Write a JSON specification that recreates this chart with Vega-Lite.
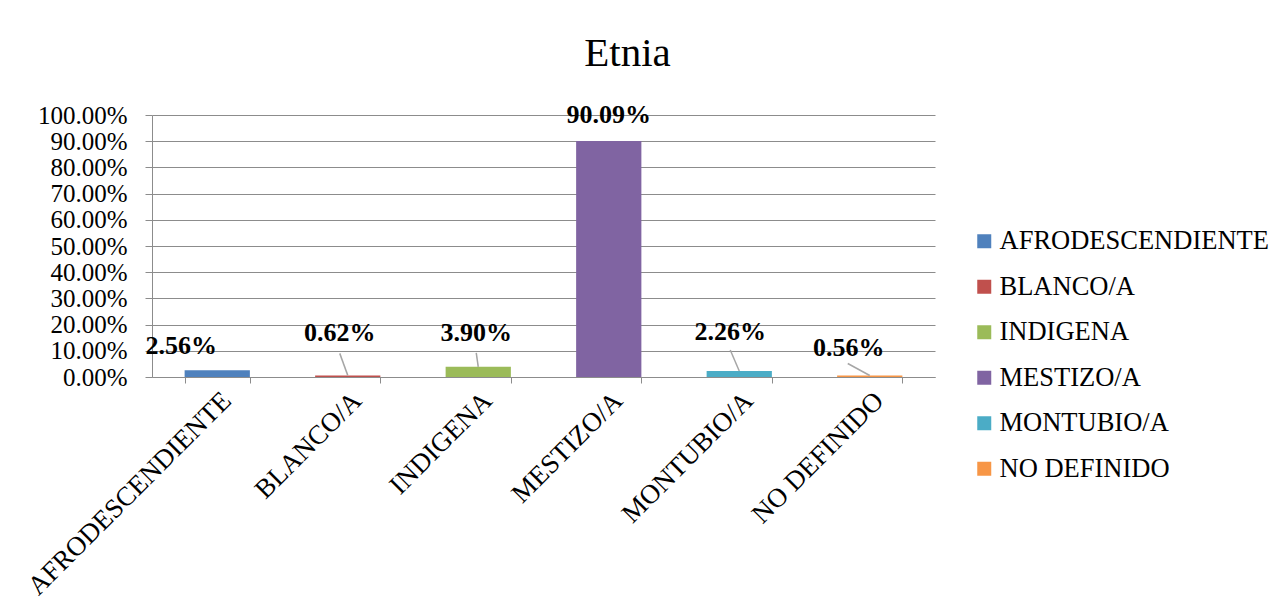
{
  "$schema": "https://vega.github.io/schema/vega-lite/v6.json",
  "width": 783,
  "height": 262,
  "autosize": {"type": "none"},
  "padding": {"left": 152, "top": 115, "right": 347, "bottom": 238},
  "background": "white",
  "config": {"view": {"stroke": null}, "font": "Liberation Serif"},
  "title": {"text": "Etnia", "fontSize": 41, "font": "Liberation Serif", "fontWeight": "normal", "color": "black", "anchor": "middle", "dx": 84, "offset": 27},
  "data": {"values": [
    {"etnia": "AFRODESCENDIENTE", "pct": 0.0256},
    {"etnia": "BLANCO/A", "pct": 0.0062},
    {"etnia": "INDIGENA", "pct": 0.039},
    {"etnia": "MESTIZO/A", "pct": 0.9009},
    {"etnia": "MONTUBIO/A", "pct": 0.0226},
    {"etnia": "NO DEFINIDO", "pct": 0.0056}
  ]},
  "encoding": {
    "x": {"field": "etnia", "type": "nominal", "sort": null,
      "scale": {"paddingInner": 0.5, "paddingOuter": 0.25},
      "axis": {"title": null, "labelAngle": -45, "labelFontSize": 27, "labelLimit": 0, "labelColor": "black", "labelFont": "Liberation Serif", "tickBand": "extent", "tickSize": 6, "tickColor": "#8c8c8c", "domainColor": "#8c8c8c", "labelPadding": 4, "grid": false}},
    "y": {"field": "pct", "type": "quantitative", "scale": {"domain": [0, 1], "nice": false},
      "axis": {"title": null, "format": ".2%", "values": [0, 0.1, 0.2, 0.3, 0.4, 0.5, 0.6, 0.7, 0.8, 0.9, 1], "labelFontSize": 25, "labelColor": "black", "labelFont": "Liberation Serif", "tickSize": 7, "labelPadding": 18, "gridColor": "#8c8c8c", "domainColor": "#8c8c8c", "tickColor": "#8c8c8c"}}
  },
  "layer": [
    {"mark": {"type": "bar"},
     "encoding": {"color": {"field": "etnia", "type": "nominal", "sort": null,
       "scale": {"domain": ["AFRODESCENDIENTE", "BLANCO/A", "INDIGENA", "MESTIZO/A", "MONTUBIO/A", "NO DEFINIDO"], "range": ["#4F81BD", "#C0504D", "#9BBB59", "#8064A2", "#4BACC6", "#F79646"]},
       "legend": {"title": null, "orient": "none", "legendX": 819, "legendY": 113, "symbolType": "square", "symbolSize": 196, "symbolStrokeWidth": 0, "labelFontSize": 26.5, "labelLimit": 0, "labelColor": "black", "labelFont": "Liberation Serif", "rowPadding": 18.5, "labelOffset": 2}}}},
    {"transform": [{"filter": "datum.etnia === 'BLANCO/A'"}],
     "mark": {"type": "rule", "color": "#a6a6a6", "strokeWidth": 1.5, "x2Offset": -8, "y2Offset": -22},
     "encoding": {"x": {"field": "etnia", "type": "nominal", "bandPosition": 0.5}, "x2": {"field": "etnia", "bandPosition": 0.5}, "y2": {"field": "pct"}}},
    {"transform": [{"filter": "datum.etnia === 'INDIGENA'"}],
     "mark": {"type": "rule", "color": "#a6a6a6", "strokeWidth": 1.5, "x2Offset": -2, "y2Offset": -14},
     "encoding": {"x": {"field": "etnia", "type": "nominal", "bandPosition": 0.5}, "x2": {"field": "etnia", "bandPosition": 0.5}, "y2": {"field": "pct"}}},
    {"transform": [{"filter": "datum.etnia === 'MONTUBIO/A'"}],
     "mark": {"type": "rule", "color": "#a6a6a6", "strokeWidth": 1.5, "x2Offset": -9, "y2Offset": -21},
     "encoding": {"x": {"field": "etnia", "type": "nominal", "bandPosition": 0.5}, "x2": {"field": "etnia", "bandPosition": 0.5}, "y2": {"field": "pct"}}},
    {"transform": [{"filter": "datum.etnia === 'NO DEFINIDO'"}],
     "mark": {"type": "rule", "color": "#a6a6a6", "strokeWidth": 1.5, "x2Offset": -22, "y2Offset": -12},
     "encoding": {"x": {"field": "etnia", "type": "nominal", "bandPosition": 0.5}, "x2": {"field": "etnia", "bandPosition": 0.5}, "y2": {"field": "pct"}}},
    {"transform": [{"filter": "datum.etnia === 'AFRODESCENDIENTE'"}],
     "mark": {"type": "text", "font": "Liberation Serif", "fontWeight": "bold", "fontSize": 26, "color": "black", "baseline": "middle", "align": "center", "dx": -36, "dy": -24},
     "encoding": {"text": {"field": "pct", "type": "quantitative", "format": ".2%"}}},
    {"transform": [{"filter": "datum.etnia === 'BLANCO/A'"}],
     "mark": {"type": "text", "font": "Liberation Serif", "fontWeight": "bold", "fontSize": 26, "color": "black", "baseline": "middle", "align": "center", "dx": -8, "dy": -42},
     "encoding": {"text": {"field": "pct", "type": "quantitative", "format": ".2%"}}},
    {"transform": [{"filter": "datum.etnia === 'INDIGENA'"}],
     "mark": {"type": "text", "font": "Liberation Serif", "fontWeight": "bold", "fontSize": 26, "color": "black", "baseline": "middle", "align": "center", "dx": -2, "dy": -34},
     "encoding": {"text": {"field": "pct", "type": "quantitative", "format": ".2%"}}},
    {"transform": [{"filter": "datum.etnia === 'MESTIZO/A'"}],
     "mark": {"type": "text", "font": "Liberation Serif", "fontWeight": "bold", "fontSize": 26, "color": "black", "baseline": "middle", "align": "center", "dx": 0, "dy": -26},
     "encoding": {"text": {"field": "pct", "type": "quantitative", "format": ".2%"}}},
    {"transform": [{"filter": "datum.etnia === 'MONTUBIO/A'"}],
     "mark": {"type": "text", "font": "Liberation Serif", "fontWeight": "bold", "fontSize": 26, "color": "black", "baseline": "middle", "align": "center", "dx": -9, "dy": -39},
     "encoding": {"text": {"field": "pct", "type": "quantitative", "format": ".2%"}}},
    {"transform": [{"filter": "datum.etnia === 'NO DEFINIDO'"}],
     "mark": {"type": "text", "font": "Liberation Serif", "fontWeight": "bold", "fontSize": 26, "color": "black", "baseline": "middle", "align": "center", "dx": -21, "dy": -28},
     "encoding": {"text": {"field": "pct", "type": "quantitative", "format": ".2%"}}}
  ]
}
